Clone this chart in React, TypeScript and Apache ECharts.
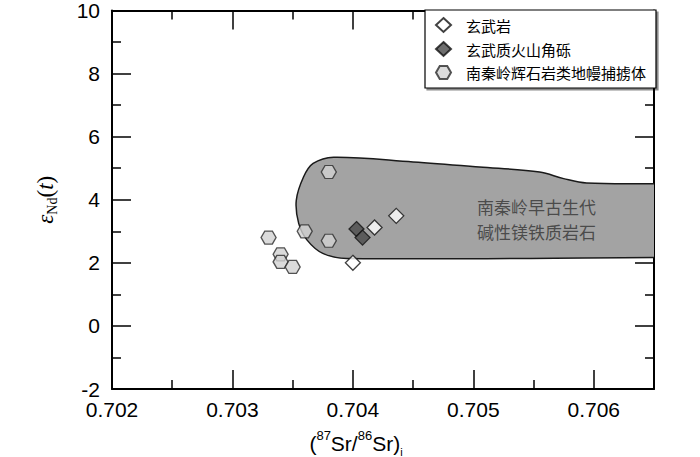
import React, { useEffect, useRef } from "react";
import * as echarts from "echarts";

// ---------- data ----------
const basaltX = [0.704, 0.70418, 0.70436];
const basaltY = [2.0, 3.12, 3.49];

const brecciaX = [0.70403, 0.70408];
const brecciaY = [3.07, 2.8];

const xenolithX = [0.7038, 0.7036, 0.7038, 0.7033, 0.7034, 0.7034, 0.7035];
const xenolithY = [4.88, 3.0, 2.7, 2.8, 2.27, 2.03, 1.87];

// outline of the field "南秦岭早古生代碱性镁铁质岩石"
const regionX = [0.70367, 0.70384, 0.7045, 0.70505, 0.70555, 0.70575, 0.70594, 0.7066, 0.7069, 0.7069, 0.7066, 0.70395, 0.70375, 0.70362, 0.70355, 0.70353, 0.70359];
const regionY = [5.15, 5.35, 5.2, 5.04, 4.88, 4.67, 4.53, 4.51, 4.51, 2.17, 2.17, 2.14, 2.3, 2.72, 3.25, 3.98, 4.72];

const regionLabelX = [0.705525, 0.705525];
const regionLabelY = [3.79, 2.99];
const regionLabels = ["南秦岭早古生代", "碱性镁铁质岩石"];

const seriesNames = ["玄武岩", "玄武质火山角砾", "南秦岭辉石岩类地幔捕掳体"];

const xTicks = { min: 0.702, max: 0.7065, interval: 0.001 };
const yTicks = { min: -2, max: 10, interval: 2 };

const HEX = "path://M0,5 L2.5,0.67 L7.5,0.67 L10,5 L7.5,9.33 L2.5,9.33 Z";
const LATIN = "'Liberation Sans', Arial, sans-serif";
const SERIF = "'Liberation Serif', 'DejaVu Serif', serif";
const CJK = "'Noto Sans CJK SC', sans-serif";

const zip = (xs: number[], ys: number[]) => xs.map((x, i) => [x, ys[i]]);

export default function App() {
  const ref = useRef<HTMLDivElement>(null);
  useEffect(() => {
    if (!ref.current) return;
    const chart = echarts.init(ref.current, null, { renderer: "svg" });
    const axisCommon = {
      axisLine: { show: true, onZero: false, lineStyle: { color: "#000", width: 2 } },
      axisTick: { show: true, inside: true, length: 19, lineStyle: { color: "#000", width: 1.5 } },
      minorTick: { show: true, splitNumber: 2, length: 9, lineStyle: { color: "#000", width: 1.5 } },
      splitLine: { show: false },
    };
    chart.setOption({
      animation: false,
      backgroundColor: "#fff",
      grid: { left: 112, top: 10, right: 46, bottom: 68 },
      xAxis: [
        {
          type: "value",
          ...xTicks,
          ...axisCommon,
          axisLabel: {
            show: true,
            margin: 10,
            fontSize: 21,
            fontFamily: LATIN,
            color: "#000",
            showMaxLabel: false,
            formatter: (v: number) => v.toFixed(3),
          },
        },
        {
          type: "value",
          position: "top",
          ...xTicks,
          ...axisCommon,
          axisLabel: { show: false },
        },
      ],
      yAxis: [
        {
          type: "value",
          ...yTicks,
          ...axisCommon,
          axisLabel: { show: true, margin: 12, fontSize: 21, fontFamily: LATIN, color: "#000" },
          name: "{e|ε}{sub|Nd}{p|(}{e|t}{p|)}",
          nameLocation: "middle",
          nameRotate: 90,
          nameGap: 53,
          nameTextStyle: {
            rich: {
              e: { fontFamily: SERIF, fontStyle: "italic", fontSize: 23, color: "#000", lineHeight: 28, verticalAlign: "middle" },
              p: { fontFamily: SERIF, fontSize: 23, color: "#000", lineHeight: 28, verticalAlign: "middle" },
              sub: { fontFamily: SERIF, fontSize: 14, color: "#000", lineHeight: 14, verticalAlign: "bottom" },
            },
          },
        },
        {
          type: "value",
          position: "right",
          ...yTicks,
          ...axisCommon,
          axisLabel: { show: false },
        },
      ],
      legend: {
        left: 425,
        top: 10,
        orient: "vertical",
        itemWidth: 15,
        itemHeight: 14,
        itemGap: 8,
        padding: [7, 10, 8, 10],
        borderColor: "#000",
        borderWidth: 1.2,
        borderRadius: 0,
        backgroundColor: "#fff",
        shadowColor: "rgba(0,0,0,0.45)",
        shadowOffsetX: 2,
        shadowOffsetY: 2,
        shadowBlur: 0,
        textStyle: { fontSize: 15, fontFamily: CJK, color: "#000", padding: [0, 0, 0, 10] },
        data: seriesNames,
      },
      graphic: [
        {
          type: "text",
          x: 356,
          y: 443,
          style: {
            text: "({sup|87}{m|Sr/}{sup|86}{m|Sr)}{sub|i}",
            align: "center",
            verticalAlign: "middle",
            fill: "#000",
            font: `21px ${LATIN}`,
            rich: {
              m: { fontSize: 21, fontFamily: LATIN, lineHeight: 28, verticalAlign: "middle" },
              sup: { fontSize: 13, fontFamily: LATIN, lineHeight: 13, verticalAlign: "top" },
              sub: { fontSize: 11, fontFamily: LATIN, lineHeight: 11, verticalAlign: "bottom" },
            },
          },
        },
      ],
      series: [
        {
          type: "custom",
          name: "region",
          clip: true,
          silent: true,
          z: 1,
          data: [[regionX[0], regionY[0]]],
          renderItem: (params: any, api: any) => {
            const pts = regionX.map((x, i) => api.coord([x, regionY[i]]));
            return {
              type: "polygon",
              shape: { points: pts, smooth: 0.35 },
              style: { fill: "#a3a3a3", stroke: "#1a1a1a", lineWidth: 1.5 },
            };
          },
        },
        {
          type: "scatter",
          name: "regionLabel",
          silent: true,
          symbolSize: 0,
          z: 2,
          data: zip(regionLabelX, regionLabelY),
          label: {
            show: true,
            position: "inside",
            formatter: (p: any) => regionLabels[p.dataIndex],
            fontSize: 17,
            lineHeight: 17,
            fontFamily: CJK,
            color: "#333",
          },
        },
        {
          type: "scatter",
          name: seriesNames[2],
          symbol: HEX,
          symbolSize: [15, 13],
          z: 3,
          itemStyle: { color: "#d2d2d2", borderColor: "#2a2a2a", borderWidth: 1.3 },
          data: zip(xenolithX, xenolithY),
        },
        {
          type: "scatter",
          name: seriesNames[0],
          symbol: "diamond",
          symbolSize: 15,
          z: 4,
          itemStyle: { color: "#fff", borderColor: "#111", borderWidth: 1.3 },
          data: zip(basaltX, basaltY),
        },
        {
          type: "scatter",
          name: seriesNames[1],
          symbol: "diamond",
          symbolSize: 15,
          z: 4,
          itemStyle: { color: "#4a4a4a", borderColor: "#111", borderWidth: 1.3 },
          data: zip(brecciaX, brecciaY),
        },
      ],
    });
    return () => chart.dispose();
  }, []);
  return <div ref={ref} style={{ width: 700, height: 457, position: "absolute", left: 0, top: 0 }} />;
}
